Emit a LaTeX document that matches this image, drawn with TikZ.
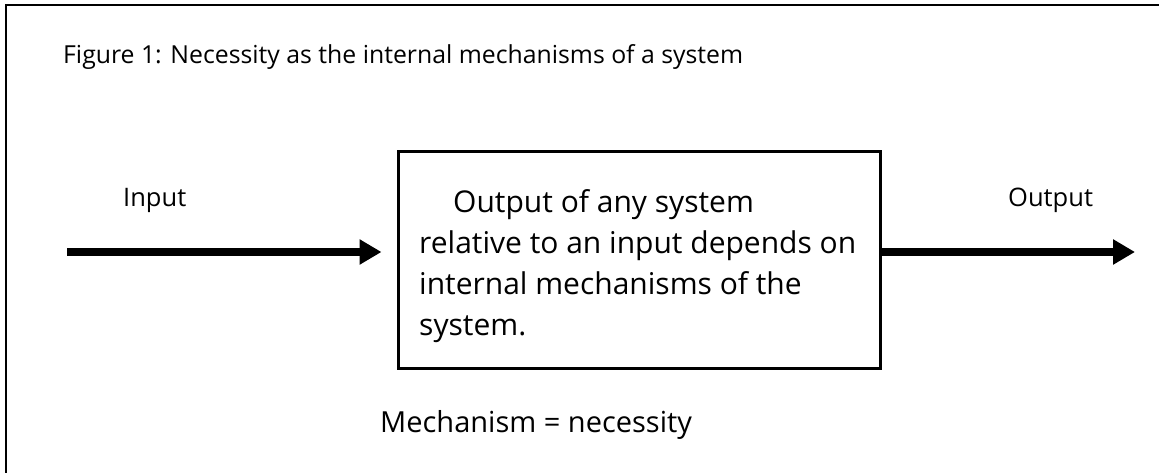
\documentclass[tikz,border=0pt]{standalone}
\usepackage{fontspec}
\setmainfont{Open Sans}
\usetikzlibrary{arrows.meta}
\tikzset{
  frameline/.style={line width=2.5pt, black},
  flowarrow/.style={line width=8pt, -{Triangle[length=22pt,width=24pt]}},
  sysbox/.style={draw, line width=3pt, minimum width=482pt, minimum height=216pt, inner sep=0pt},
  label/.style={inner sep=0pt, anchor=base west},
}
\begin{document}
\begin{tikzpicture}[x=1pt,y=-1pt]
  \useasboundingbox (0,0) rectangle (1159,473);
  % open frame: left and top edges only
  \draw[frameline] (6,473) -- (6,5) -- (1159,5);

  \node[label, font=\fontsize{24.8}{30}\selectfont] (title) at (63,64)
    {Figure 1: Necessity as the internal mechanisms of a system};

  % the system box and its description (base = last line's baseline)
  \node[sysbox] (sys) at (639,260) {};
  \node[label, align=left, font=\fontsize{30}{41}\selectfont] (mech) at (419,335)
    {\hspace*{34pt}Output of any system\\relative to an input depends on\\internal mechanisms of the\\system.};

  \node[label, font=\fontsize{25.5}{30}\selectfont] (inlbl) at (123,207) {Input};
  \node[label, font=\fontsize{25.5}{30}\selectfont] (outlbl) at (1008,207) {Output};
  \node[label, font=\fontsize{29}{35}\selectfont] (eq) at (380,432) {Mechanism = necessity};

  % input and output arrows
  \coordinate (inA) at (67,252);
  \coordinate (outB) at (1135,252);
  \draw[flowarrow, shorten >=15pt] (inA) -- (inA -| sys.west);
  \draw[flowarrow] (outB -| sys.east) -- (outB);
\end{tikzpicture}
\end{document}
